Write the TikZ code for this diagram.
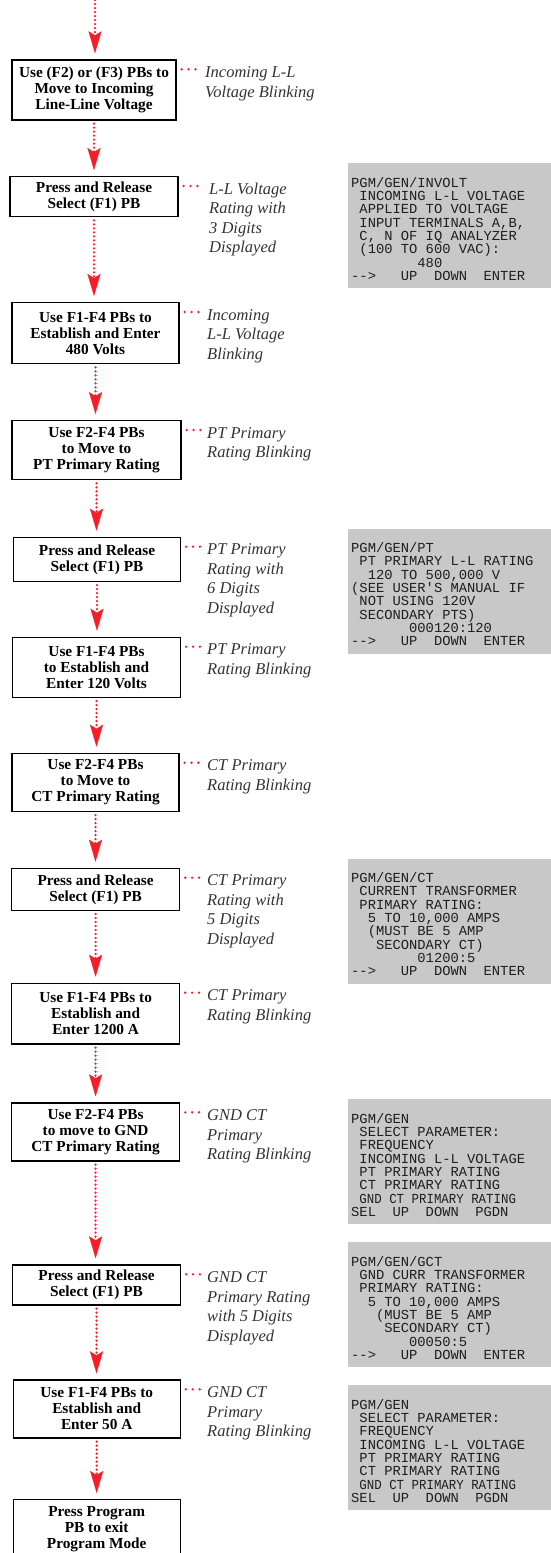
\documentclass[tikz,border=0pt]{standalone}
\usepackage{fontspec}
\usepackage{graphicx}
\setmainfont{Liberation Serif}
\newfontfamily\scrfont{Liberation Mono}
\usetikzlibrary{arrows.meta}
\definecolor{arrowred}{RGB}{245,30,40}
\definecolor{lblgray}{RGB}{51,51,51}
\definecolor{scrgray}{RGB}{200,200,200}
\definecolor{scrtxt}{RGB}{30,30,30}
\newcommand\scrarrow{-\kern0pt-\kern0pt>}
\newcommand\lstrut{\rule{0pt}{13pt}}
\newcommand\sstrut{\rule{0pt}{12pt}}
\tikzset{
  box/.style={draw=black, line width=1.3pt, fill=white, align=center, inner sep=0pt,
    font=\fontsize{15.3}{16}\selectfont\bfseries, anchor=north},
  lbl/.style={anchor=north west, align=left, inner sep=0pt, text=lblgray,
    font=\fontsize{16.5}{19.5}\selectfont\itshape},
  screen/.style={fill=scrgray, draw=none, anchor=north west, minimum width=210pt,
    minimum height=125pt, inner sep=0pt},
  scrtext/.style={anchor=north west, align=left, inner sep=0pt, text=scrtxt,
    font=\scrfont\fontsize{13.8}{13.3}\selectfont},
  flow/.style={draw=arrowred, line width=2.5pt, dash pattern=on 0pt off 4pt, line cap=round,
    shorten <=3pt, shorten >=6pt,
    -{Stealth[length=22pt,width=13pt,inset=4pt,line width=0.2pt,fill=arrowred]}},
  ldots/.style={draw=arrowred, line width=2.6pt, dash pattern=on 0pt off 6.9pt, line cap=round}
}
\begin{document}
\begin{tikzpicture}[x=1pt,y=-1pt]
\useasboundingbox (0,0) rectangle (550,1553);
\fill[white] (0,0) rectangle (550,1553);

% screens
\node[screen] (s1) at (348,163) {};
\node[screen] (s2) at (348,528.3) {};
\node[screen] (s3) at (348,858.3) {};
\node[screen] (s4) at (348,1099) {};
\node[screen] (s5) at (348,1242) {};
\node[screen] (s6) at (348,1385) {};

\node[scrtext] (t1) at (351,175) {\sstrut PGM/GEN/INVOLT\\
~INCOMING~L-L~VOLTAGE\\
~APPLIED~TO~VOLTAGE\\
~INPUT~TERMINALS~A,B,\\
~C,~N~OF~IQ~ANALYZER\\
~(100~TO~600~VAC):\\
~~~~~~~~480\\
\scrarrow~~~UP~~DOWN~~ENTER};

\node[scrtext] (t2) at (351,540.3) {\sstrut PGM/GEN/PT\\
~PT~PRIMARY~L-L~RATING\\
~~120~TO~500,000~V\\
(SEE~USER'S~MANUAL~IF\\
~NOT~USING~120V\\
~SECONDARY~PTS)\\
~~~~~~~000120:120\\
\scrarrow~~~UP~~DOWN~~ENTER};

\node[scrtext] (t3) at (351,870.3) {\sstrut PGM/GEN/CT\\
~CURRENT~TRANSFORMER\\
~PRIMARY~RATING:\\
~~5~TO~10,000~AMPS\\
~~(MUST~BE~5~AMP\\
~~~SECONDARY~CT)\\
~~~~~~~~01200:5\\
\scrarrow~~~UP~~DOWN~~ENTER};

\node[scrtext] (t4) at (351,1111) {\sstrut PGM/GEN\\
~SELECT~PARAMETER:\\
~FREQUENCY\\
~INCOMING~L-L~VOLTAGE\\
~PT~PRIMARY~RATING\\
~CT~PRIMARY~RATING\\
~\scalebox{0.9}[1]{GND~CT~PRIMARY~RATING}\\
SEL~~UP~~DOWN~~PGDN};

\node[scrtext] (t5) at (351,1254) {\sstrut PGM/GEN/GCT\\
~GND~CURR~TRANSFORMER\\
~PRIMARY~RATING:\\
~~5~TO~10,000~AMPS\\
~~~(MUST~BE~5~AMP\\
~~~~SECONDARY~CT)\\
~~~~~~~00050:5\\
\scrarrow~~~UP~~DOWN~~ENTER};

\node[scrtext] (t6) at (351,1397) {\sstrut PGM/GEN\\
~SELECT~PARAMETER:\\
~FREQUENCY\\
~INCOMING~L-L~VOLTAGE\\
~PT~PRIMARY~RATING\\
~CT~PRIMARY~RATING\\
~\scalebox{0.9}[1]{GND~CT~PRIMARY~RATING}\\
SEL~~UP~~DOWN~~PGDN};

% boxes
\node[box, minimum width=164pt, minimum height=60pt] (b1) at (94,59.3) {Use (F2) or (F3) PBs to\\Move to Incoming\\Line-Line Voltage};
\node[box, minimum width=168pt, minimum height=40pt] (b2) at (94,176) {Press and Release\\Select (F1) PB};
\node[box, minimum width=167pt, minimum height=61pt] (b3) at (95.5,302) {Use F1-F4 PBs to\\Establish and Enter\\480 Volts};
\node[box, minimum width=169pt, minimum height=59pt] (b4) at (96.5,420) {Use F2-F4 PBs\\to Move to\\PT Primary Rating};
\node[box, minimum width=167pt, minimum height=44pt] (b5) at (97,536.7) {Press and Release\\Select (F1) PB};
\node[box, minimum width=168pt, minimum height=60pt] (b6) at (96.5,636.7) {Use F1-F4 PBs\\to Establish and\\Enter 120 Volts};
\node[box, minimum width=167pt, minimum height=58pt] (b7) at (95.5,752.7) {Use F2-F4 PBs\\to Move to\\CT Primary Rating};
\node[box, minimum width=168pt, minimum height=42pt] (b8) at (95.6,867.7) {Press and Release\\Select (F1) PB};
\node[box, minimum width=168pt, minimum height=60.6pt] (b9) at (95.6,982.7) {Use F1-F4 PBs to\\Establish and\\Enter 1200 A};
\node[box, minimum width=168pt, minimum height=58pt] (b10) at (95.6,1102.3) {Use F2-F4 PBs\\to move to GND\\CT Primary Rating};
\node[box, minimum width=168pt, minimum height=40pt] (b11) at (96.5,1264.3) {Press and Release\\Select (F1) PB};
\node[box, minimum width=167pt, minimum height=58pt] (b12) at (96.7,1379.3) {Use F1-F4 PBs to\\Establish and\\Enter 50 A};
\node[box, minimum width=167pt, minimum height=60pt] (b13) at (96.7,1499) {Press Program\\PB to exit\\Program Mode};

% labels
\node[lbl] (l1) at (205,64.3) {\lstrut Incoming L-L\\Voltage Blinking};
\node[lbl] (l2) at (209,181) {\lstrut L-L Voltage\\Rating with\\3 Digits\\Displayed};
\node[lbl] (l3) at (207,307) {\lstrut Incoming\\L-L Voltage\\Blinking};
\node[lbl] (l4) at (207,425) {\lstrut PT Primary\\Rating Blinking};
\node[lbl] (l5) at (207,541.7) {\lstrut PT Primary\\Rating with\\6 Digits\\Displayed};
\node[lbl] (l6) at (207,641.7) {\lstrut PT Primary\\Rating Blinking};
\node[lbl] (l7) at (207,757.7) {\lstrut CT Primary\\Rating Blinking};
\node[lbl] (l8) at (207,872.7) {\lstrut CT Primary\\Rating with\\5 Digits\\Displayed};
\node[lbl] (l9) at (207,987.7) {\lstrut CT Primary\\Rating Blinking};
\node[lbl] (l10) at (207,1107.3) {\lstrut GND CT\\Primary\\Rating Blinking};
\node[lbl] (l11) at (207,1269.3) {\lstrut GND CT\\Primary Rating\\with 5 Digits\\Displayed};
\node[lbl] (l12) at (207,1384.3) {\lstrut GND CT\\Primary\\Rating Blinking};

% label dots
\foreach \b in {b1,b2,b3,b4,b5,b6,b7,b8,b9,b10,b11,b12}{
  \draw[ldots] ([shift={(5pt,-10pt)}]\b.north east) -- ([shift={(19pt,-10pt)}]\b.north east);
}

% flow arrows
\coordinate (start) at (95,-3);
\draw[flow] (start) -- (start |- b1.north);
\foreach \a/\c in {b1/b2,b2/b3,b3/b4,b4/b5,b5/b6,b6/b7,b7/b8,b8/b9,b9/b10,b10/b11,b11/b12,b12/b13}{
  \draw[flow] (\a.south) -- (\a.south |- \c.north);
}
\end{tikzpicture}
\end{document}
